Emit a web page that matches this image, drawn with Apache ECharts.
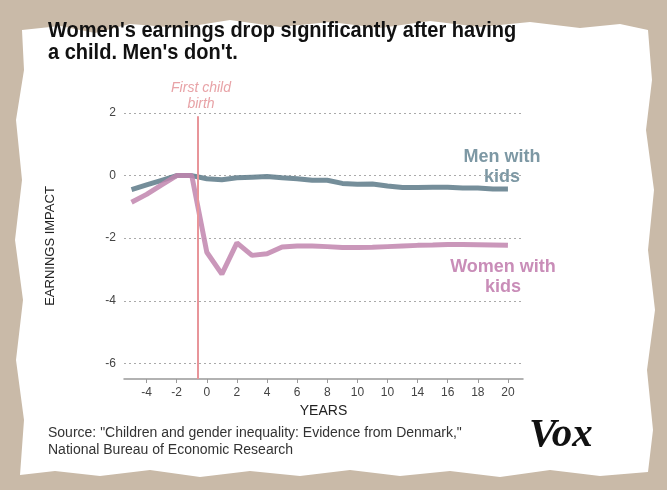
<!DOCTYPE html>
<html>
<head>
<meta charset="utf-8">
<script src="https://cdn.jsdelivr.net/npm/echarts@6/dist/echarts.min.js"></script>
<style>
html, body { margin: 0; padding: 0; background: #c9baa8; }
#chart { width: 667px; height: 490px; }
</style>
</head>
<body>
<div id="chart"></div>
<script>
// years after first child (x values)
var years = [-5, -4, -3, -2, -1, 0, 1, 2, 3, 4, 5, 6, 7, 8, 9, 10, 11, 12, 13, 14, 15, 16, 17, 18, 19, 20];
var menWithKids = [-0.45, -0.3, -0.15, 0, 0, -0.1, -0.13, -0.07, -0.05, -0.03, -0.07, -0.1, -0.15, -0.15, -0.25, -0.28, -0.27, -0.33, -0.38, -0.38, -0.37, -0.37, -0.4, -0.4, -0.43, -0.43];
var womenWithKids = [-0.85, -0.6, -0.3, 0, 0, -2.45, -3.15, -2.15, -2.55, -2.5, -2.28, -2.25, -2.25, -2.27, -2.3, -2.3, -2.29, -2.27, -2.25, -2.23, -2.22, -2.2, -2.2, -2.21, -2.22, -2.23];
// x ticks and their labels (as printed in the original)
var xTickValues = [-4, -2, 0, 2, 4, 6, 8, 10, 12, 14, 16, 18, 20];
var xTickLabels = ['-4', '-2', '0', '2', '4', '6', '8', '10', '10', '14', '16', '18', '20'];
var yTickValues = [2, 0, -2, -4, -6];
var birthYear = -0.6;

function pairs(xs, ys) {
	var out = [];
	for (var i = 0; i < xs.length; i++) out.push([xs[i], ys[i]]);
	return out;
}

var chart = echarts.init(document.getElementById('chart'));

// torn paper sheet
var paper = [[22, 30], [60, 26], [95, 33], [130, 24], [180, 28], [230, 20], [280, 27], [330, 22], [380, 28], [430, 21], [480, 27], [530, 22], [580, 28], [620, 24], [648, 30],
	[652, 80], [646, 130], [654, 190], [648, 250], [655, 310], [647, 370], [653, 430], [648, 472],
	[600, 476], [550, 470], [500, 477], [450, 471], [400, 476], [350, 470], [300, 476], [250, 471], [200, 477], [150, 470], [100, 476], [55, 471], [20, 475],
	[24, 420], [16, 360], [23, 300], [15, 240], [22, 180], [16, 120], [24, 70]];

var sans = '"Liberation Sans", Arial, sans-serif';

var option = {
	backgroundColor: '#c9baa8',
	animation: false,
	graphic: [
		{ type: 'polygon', z: -10, shape: { points: paper }, style: { fill: '#ffffff' } },
		{
			type: 'text', x: 48, y: 20, scaleX: 0.91,
			style: { text: "Women's earnings drop significantly after having\na child. Men's don't.", fill: '#111', font: 'bold 22px ' + sans, lineHeight: 22 }
		},
		{ type: 'text', x: 201, y: 80, style: { text: 'First child\nbirth', fill: '#e8a3a7', font: 'italic 14px ' + sans, align: 'center', lineHeight: 16 } },
		{ type: 'text', x: 502, y: 147, style: { text: 'Men with\nkids', fill: '#7d98a4', font: 'bold 18px ' + sans, align: 'center', lineHeight: 20 } },
		{ type: 'text', x: 503, y: 257, style: { text: 'Women with\nkids', fill: '#c98db8', font: 'bold 18px ' + sans, align: 'center', lineHeight: 20 } },
		{ type: 'text', x: 48, y: 425, style: { text: 'Source: "Children and gender inequality: Evidence from Denmark,"\nNational Bureau of Economic Research', fill: '#333', font: '14px ' + sans, lineHeight: 17 } },
		{ type: 'text', x: 529, y: 415, style: { text: 'Vox', fill: '#111', font: 'italic bold 41px "Liberation Serif", "DejaVu Serif", serif' } }
	],
	grid: {
		left: 124,
		right: 144,
		top: 113,
		bottom: 111
	},
	xAxis: {
		type: 'value',
		min: -5.5,
		max: 21,
		name: 'YEARS',
		nameLocation: 'middle',
		nameGap: 25,
		nameTextStyle: { fontFamily: sans, fontSize: 14, color: '#222' },
		axisLine: { onZero: false, lineStyle: { color: '#999', width: 1.5 } },
		axisTick: { show: true, length: 4, lineStyle: { color: '#999' }, customValues: xTickValues },
		axisLabel: {
			customValues: xTickValues,
			fontFamily: sans,
			fontSize: 12,
			color: '#444',
			margin: 8,
			formatter: function (v) {
				var i = xTickValues.indexOf(v);
				return i >= 0 ? xTickLabels[i] : '';
			}
		},
		splitLine: { show: false }
	},
	yAxis: {
		type: 'value',
		min: -6.5,
		max: 2,
		name: 'EARNINGS IMPACT',
		nameLocation: 'middle',
		nameGap: 67,
		nameTextStyle: { fontFamily: sans, fontSize: 13, color: '#222' },
		axisLine: { show: false },
		axisTick: { show: false, customValues: yTickValues },
		axisLabel: { customValues: yTickValues, fontFamily: sans, fontSize: 12, color: '#444', margin: 8 },
		splitLine: { show: true, lineStyle: { color: '#aaa', type: [2, 3], width: 1 } }
	},
	series: [
		{
			name: 'Men with kids',
			type: 'line',
			data: pairs(years, menWithKids),
			symbol: 'none',
			lineStyle: { color: '#66828f', width: 5, opacity: 0.9 },
			z: 3
		},
		{
			name: 'Women with kids',
			type: 'line',
			data: pairs(years, womenWithKids),
			symbol: 'none',
			lineStyle: { color: '#c185ae', width: 5, opacity: 0.85 },
			z: 4,
			markLine: {
				silent: true,
				symbol: 'none',
				label: { show: false },
				lineStyle: { color: '#e8959a', width: 2, type: 'solid' },
				data: [[{ coord: [birthYear, 1.9] }, { coord: [birthYear, -6.5] }]]
			}
		}
	]
};
chart.setOption(option);
</script>
</body>
</html>
